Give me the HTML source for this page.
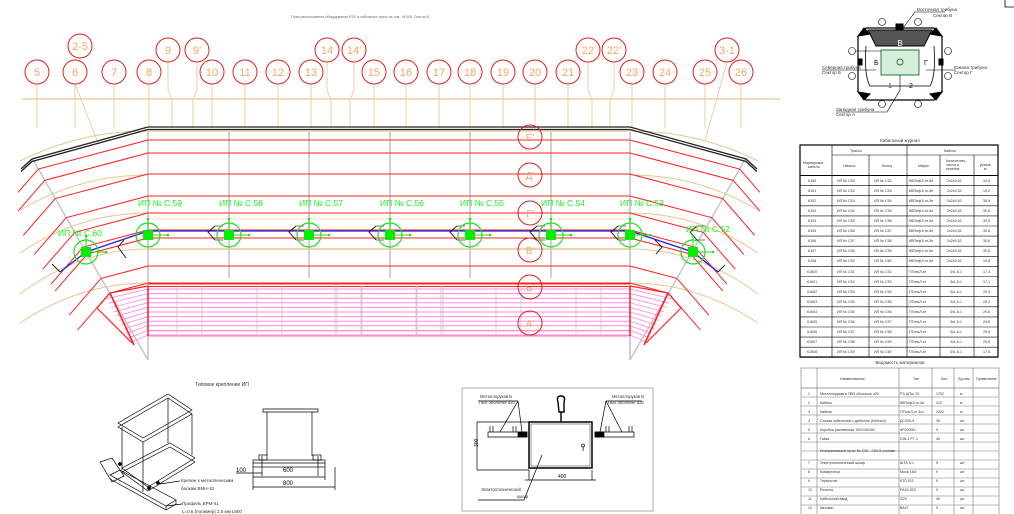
<!DOCTYPE html>
<html><head><meta charset="utf-8"><style>
html,body{margin:0;padding:0;background:#fff;width:1014px;height:514px;overflow:hidden}
svg{display:block;font-family:"Liberation Sans","DejaVu Sans",sans-serif}
.b{fill:#f0a868;font-size:11px;text-anchor:middle}
.g{fill:#22ee22;font-size:8.5px}
.t{font-size:3.6px;fill:#333}
.tc{font-size:3.6px;fill:#333;text-anchor:middle}
</style></head><body>
<svg id="s" width="1014" height="514" viewBox="0 0 1014 514" xmlns="http://www.w3.org/2000/svg">
<g id="geo"></g>
<text x="360" y="18" class="tc" style="font-size:3.5px;fill:#666">План расположения оборудования РЭС и кабельных трасс на отм. +8.000. Сектор В</text>
<!-- bubbles -->
<g fill="#fff" stroke="#e02020" stroke-width="1">
<circle cx="37" cy="72" r="12"/><circle cx="75" cy="72" r="12"/><circle cx="114" cy="72" r="12"/><circle cx="149" cy="72" r="12"/>
<circle cx="212" cy="72" r="12"/><circle cx="245" cy="72" r="12"/><circle cx="278" cy="72" r="12"/><circle cx="311" cy="72" r="12"/>
<circle cx="374" cy="72" r="12"/><circle cx="406" cy="72" r="12"/><circle cx="439" cy="72" r="12"/><circle cx="470" cy="72" r="12"/>
<circle cx="503" cy="72" r="12"/><circle cx="535" cy="72" r="12"/><circle cx="568" cy="72" r="12"/><circle cx="632" cy="72" r="12"/>
<circle cx="665" cy="72" r="12"/><circle cx="705" cy="72" r="12"/><circle cx="741" cy="72" r="12"/>
<circle cx="80" cy="46" r="12"/><circle cx="168" cy="50" r="12"/><circle cx="197" cy="50" r="12"/><circle cx="327" cy="50" r="12"/>
<circle cx="354" cy="50" r="12"/><circle cx="588" cy="50" r="12"/><circle cx="614" cy="50" r="12"/><circle cx="727" cy="50" r="12"/>
</g>
<g class="b">
<text x="37" y="76">5</text><text x="75" y="76">6</text><text x="114" y="76">7</text><text x="149" y="76">8</text>
<text x="212" y="76">10</text><text x="245" y="76">11</text><text x="278" y="76">12</text><text x="311" y="76">13</text>
<text x="374" y="76">15</text><text x="406" y="76">16</text><text x="439" y="76">17</text><text x="470" y="76">18</text>
<text x="503" y="76">19</text><text x="535" y="76">20</text><text x="568" y="76">21</text><text x="632" y="76">23</text>
<text x="665" y="76">24</text><text x="705" y="76">25</text><text x="741" y="76">26</text>
<text x="80" y="50">2-5</text><text x="168" y="54">9</text><text x="197" y="54">9'</text><text x="327" y="54">14</text>
<text x="354" y="54">14'</text><text x="588" y="54">22</text><text x="614" y="54">22'</text><text x="727" y="54">3-1</text>
</g>
<!-- row bubbles -->
<g fill="none" stroke="#e02020" stroke-width="1">
<circle cx="530" cy="137" r="12"/><circle cx="530" cy="175" r="12"/><circle cx="530" cy="213" r="12"/>
<circle cx="530" cy="250" r="12"/><circle cx="530" cy="287" r="12"/><circle cx="530" cy="323" r="12"/>
</g>
<g class="b" style="font-size:10px">
<text x="530" y="141">Е'</text><text x="530" y="179">Д'</text><text x="530" y="217">Г'</text>
<text x="530" y="254">В'</text><text x="530" y="291">Б'</text><text x="530" y="327">А'</text>
</g>
<g id="nodes"></g>
<g class="g">
<text x="138" y="206">ИП № С.59</text><text x="219" y="206">ИП № С.58</text><text x="299" y="206">ИП № С.57</text>
<text x="380" y="206">ИП № С.56</text><text x="460" y="206">ИП № С.55</text><text x="541" y="206">ИП № С.54</text>
<text x="620" y="206">ИП № С.53</text><text x="58" y="236">ИП № С.60</text><text x="686" y="232">ИП № С.52</text>
</g>

<!-- site plan -->
<g stroke="#000" fill="none" stroke-width="1">
<polygon points="866,28 934,28 942,36 942,92 934,100 866,100 858,92 858,36" stroke-width="1.2"/>
<path d="M868,30 L932,30 L924,46 L876,46 Z" fill="#555"/>
<rect x="881" y="50" width="38" height="25" fill="#d8eedd" stroke="#2a7a3a"/>
<circle cx="900" cy="62" r="3" stroke="#2a7a3a"/>
<path d="M866,46 Q864,76 870,86 L930,86 Q936,76 934,46" stroke-width="0.8"/>
<rect x="896" y="24" width="7" height="6" fill="#000"/>
<rect x="858" y="59" width="4" height="6" fill="#000"/><rect x="939" y="59" width="4" height="6" fill="#000"/>
<path d="M858,36 l6,-8 l6,6 z M942,36 l-6,-8 l-6,6 z M858,92 l6,8 l6,-6 z M942,92 l-6,8 l-6,-6 z" fill="#000"/>
<g stroke-width="0.6"><circle cx="882" cy="22" r="3.5"/><circle cx="918" cy="22" r="3.5"/><circle cx="852" cy="51" r="3.5"/><circle cx="948" cy="51" r="3.5"/>
<circle cx="852" cy="76" r="3.5"/><circle cx="948" cy="76" r="3.5"/><circle cx="882" cy="104" r="3.5"/><circle cx="918" cy="104" r="3.5"/>
<path d="M903,28 L915,12 L945,12 M855,51 L881,51 M822,70 L876,70 M956,70 L926,70 M900,75 L900,90 L887,112 L836,112"/></g>
</g>
<text x="900" y="46" style="font-size:8px;fill:#fff;text-anchor:middle">В</text>
<text x="874" y="65" style="font-size:7px">Б</text><text x="924" y="65" style="font-size:7px">Г</text>
<text x="888" y="88" style="font-size:7px;fill:#2244aa">1</text><text x="909" y="88" style="font-size:7px">2</text>
<g class="t" style="font-size:4.5px"><text x="917" y="11">Восточная трибуна</text><text x="933" y="17">Сектор В</text>
<text x="822" y="69">Северная трибуна</text><text x="822" y="74">Сектор Б</text>
<text x="954" y="69">Южная трибуна</text><text x="954" y="74">Сектор Г</text>
<text x="836" y="111">Западная трибуна</text><text x="836" y="116">Сектор А</text></g>
<path d="M1005,0 L1005,7 L1014,7" stroke="#000" fill="none" stroke-width="0.8"/>

<!-- cable table -->
<text x="900" y="142" class="tc" style="font-size:4.5px">Кабельный журнал</text>
<g id="ct" stroke="#000" fill="none" stroke-width="0.6"></g>
<g id="ctt"></g>
<!-- materials table -->
<text x="900" y="364" class="tc" style="font-size:4.5px">Ведомость материалов</text>
<g id="mt" stroke="#777" fill="none" stroke-width="0.6"></g>
<g class="t">
<text x="840" y="380">Наименование</text><text x="913" y="380">Тип</text><text x="941" y="380">Кол.</text><text x="958" y="380">Ед.изм.</text><text x="976" y="380">Примечание</text>
<text x="808" y="395">1</text><text x="820" y="395">Металлорукав в ПВХ оболочке d20</text><text x="900" y="395">РЗ-ЦПнг 20</text><text x="936" y="395">1702</text><text x="960" y="395">м</text>
<text x="808" y="404">2</text><text x="820" y="404">Кабель</text><text x="900" y="404">КВПефЭ-нг-5е</text><text x="936" y="404">312</text><text x="960" y="404">м</text>
<text x="808" y="413">3</text><text x="820" y="413">Кабель</text><text x="900" y="413">ПТоньЛ-нг 3х1</text><text x="936" y="413">2202</text><text x="960" y="413">м</text>
<text x="808" y="422">4</text><text x="820" y="422">Стяжка кабельная с дюбелем (Нейлон)</text><text x="900" y="422">ДС200-9</text><text x="936" y="422">36</text><text x="960" y="422">шт</text>
<text x="808" y="431">5</text><text x="820" y="431">Коробка распаечная 100х100х50</text><text x="900" y="431">КР100/50</text><text x="936" y="431">9</text><text x="960" y="431">шт</text>
<text x="808" y="440">6</text><text x="820" y="440">Гайка</text><text x="900" y="440">DIN-1 Р7-1</text><text x="936" y="440">45</text><text x="960" y="440">шт</text>
<text x="820" y="452">Интерактивный пункт № С52 - С60 8 составе</text>
<text x="808" y="464">7</text><text x="820" y="464">Электротехнический шкаф</text><text x="900" y="464">ШТА 5-1</text><text x="936" y="464">9</text><text x="960" y="464">шт</text>
<text x="808" y="473">8</text><text x="820" y="473">Коммутатор</text><text x="900" y="473">Moxa 16G</text><text x="936" y="473">9</text><text x="960" y="473">шт</text>
<text x="808" y="482">9</text><text x="820" y="482">Термостат</text><text x="900" y="482">КТО 011</text><text x="936" y="482">9</text><text x="960" y="482">шт</text>
<text x="808" y="491">10</text><text x="820" y="491">Розетка</text><text x="900" y="491">РА16-003</text><text x="936" y="491">9</text><text x="960" y="491">шт</text>
<text x="808" y="500">11</text><text x="820" y="500">Кабельный ввод</text><text x="900" y="500">G20</text><text x="936" y="500">45</text><text x="960" y="500">шт</text>
<text x="808" y="509">12</text><text x="820" y="509">Автомат</text><text x="900" y="509">ВА47</text><text x="936" y="509">9</text><text x="960" y="509">шт</text>
</g>

<!-- bottom-left bracket -->
<text x="222" y="386" class="tc" style="font-size:5px">Типовое крепление ИП</text>
<g stroke="#000" fill="none" stroke-width="0.7">
<polygon points="118,423 168,394 192,410 143,438"/><polygon points="118,427 168,398 192,414 143,442"/>
<path d="M122,427 L122,470 M143,442 L143,492 M168,398 L168,443 M192,414 L192,455"/>
<polygon points="122,468 170,443 195,458 148,487"/><polygon points="122,472 170,447 195,462 148,491"/>
<polygon points="100,462 112,458 124,476 112,482" /><polygon points="110,475 120,470 176,500 166,506"/><path d="M110,479 L166,510 M166,506 L166,510 M176,500 L176,504 L166,510"/>
<circle cx="120" cy="464" r="1.5" fill="#000"/><circle cx="149" cy="488" r="1.5" fill="#000"/><circle cx="158" cy="483" r="1.5" fill="#000"/>
<path d="M160,484 L180,481 M166,506 L182,504"/>
<path d="M263,409 L318,409 L318,412 L263,412 Z M267,412 L267,456 M312,412 L312,456"/>
<rect x="253" y="460" width="72" height="7"/><path d="M253,463 L325,463 M262,456 L262,476 M318,456 L318,476"/>
<rect x="259" y="455" width="8" height="5"/><rect x="313" y="455" width="8" height="5"/>
<path d="M236,473 L262,473 M253,477 L325,477 M253,487 L335,487 M253,467 L253,490 M325,467 L325,480 M335,467 L335,490"/>
</g>
<g class="t" style="font-size:4.5px"><text x="181" y="482">Крепеж к металлическим</text><text x="181" y="490">балкам ВМН-10</text>
<text x="182" y="505">Профиль ВРМ-41</text><text x="182" y="513">L=0.5 (полимер) 2.5 мм L800</text></g>
<g style="font-size:6px;fill:#000"><text x="236" y="472">100</text><text x="283" y="472">600</text><text x="283" y="485">800</text></g>

<!-- bottom middle -->
<g stroke="#000" fill="none" stroke-width="0.7">
<rect x="462" y="388" width="191" height="123" stroke="#888"/>
<rect x="529" y="422" width="63" height="46" stroke-width="1.5"/><rect x="531" y="424" width="59" height="42" stroke-width="0.4"/>
<path d="M477,422 L529,422 M477,470 L529,470 M477,422 L477,470"/>
<path d="M488,432 L527,432 L527,437 L488,437 Z M490,426 L490,432 M493,426 L493,432 M513,426 L513,432 M516,426 L516,432"/>
<path d="M595,432 L634,432 L634,437 L595,437 Z M606,426 L606,432 M609,426 L609,432 M629,426 L629,432 M632,426 L632,432"/>
<rect x="518" y="432" width="9" height="5" fill="#000"/><rect x="595" y="432" width="9" height="5" fill="#000"/>
<path d="M518,401 L500,432 M518,401 L522,432 M606,401 L600,432 M606,401 L622,432 M478,401 L518,401 M606,401 L642,401"/>
<path d="M529,470 L529,480 L592,480 L592,470 M525,480 L596,480"/>
<path d="M542,455 L524,500 L478,500"/>
<path d="M558,402 Q556,396 561,396 Q566,396 564,402 L564,412 L559,412 Z M561,412 L561,422" stroke-width="1.4"/>
<path d="M583,447 a1.5,1.5 0 1 1 0.1,0 l0,4"/>
</g>
<g class="t" style="font-size:4.2px"><text x="480" y="398">Металлорукав Б</text><text x="479" y="404">ПВХ оболочке d20</text>
<text x="612" y="398">Металлорукав Б</text><text x="608" y="404">ПВХ оболочке d20</text>
<text x="481" y="491">Электротехнический</text><text x="517" y="498">шкаф</text></g>
<text x="558" y="478" style="font-size:5px">400</text>
<text x="474" y="451" transform="rotate(-90 474 447)" style="font-size:5px">300</text>

<script>
const NS="http://www.w3.org/2000/svg",G=document.getElementById('geo');
function el(t,a,p){const e=document.createElementNS(NS,t);for(const k in a)e.setAttribute(k,a[k]);(p||G).appendChild(e);return e;}
function L(x1,y1,x2,y2,c,w,p){el('line',{x1,y1,x2,y2,stroke:c,'stroke-width':w||1},p);}
function PL(pts,c,w,p){el('polyline',{points:pts.map(q=>q.join(',')).join(' '),stroke:c,'stroke-width':w||1,fill:'none'},p);}
const M=x=>778-x, BE='#e6c88c', RED='#ff2020', GR='#c4c4c4', PK='#ff88e8';
// beige axis
L(22,99,780,99,BE,1.2);
const bx=[37,75,114,149,212,245,278,311,374,406,439,470,503,535,568,632,665,705,741];
bx.forEach(x=>L(x,84,x,128,BE,0.8));
[[168,50],[197,50],[327,50],[354,50],[588,50],[614,50]].forEach(([x,y],i)=>{const d=i%2?-4:4;PL([[x,62],[x,90],[x+d,100],[x+d,128]],BE,0.8);});
PL([[80,58],[80,80],[75,84]],BE,0.8);PL([[75,84],[97,140]],BE,0.8);PL([[727,62],[715,105],[705,140]],BE,0.8);
L(148,131,630,131,BE,1.2);L(148,249,630,249,BE,1.5);L(148,219,630,219,BE,0.6);L(148,312,630,312,BE,1);L(148,331,630,331,BE,1);
// beige arcs wings
[[175,35],[213,40],[249,45],[283,40],[131,30]].forEach(([y,d])=>{el('path',{d:`M148,${y} Q80,${y} 20,${y+d}`,stroke:BE,'stroke-width':1,fill:'none'});el('path',{d:`M630,${y} Q698,${y} 758,${y+d}`,stroke:BE,'stroke-width':1,fill:'none'});});
// gray verticals
const vx=[148,229,309,390,470,551,630];
vx.forEach(x=>L(x,132,x,(x==148||x==630)?360:278,GR,1.6));
L(32,158,148,360,GR,1.4);L(746,158,630,360,GR,1.4);
// red lines
const ys=[140,153,174,196,213,230,238,266,283];
ys.forEach(y0=>{L(148,y0,630,y0,RED,1);const x=(0.574*y0-36.2)/1.152,y=y0+0.265*(148-x);let Lg=Math.min(32,x-18);
PL([[148,y0],[x,y],[x-Lg,y+Lg*1.15]],RED,1);PL([[630,y0],[M(x),y],[M(x)+Lg,y+Lg*1.15]],RED,1);});
// black top
[127,129.5].forEach(y=>{PL([[148,y],[32,y+32],[21,y+42]],'#222',1.3);L(148,y,630,y,'#222',1.3);PL([[630,y],[746,y+32],[757,y+42]],'#222',1.3);});
// pink zone
L(148,284,630,284,RED,1);L(148,286.5,630,286.5,RED,1);
for(let y=289;y<=336;y+=4.6){L(148,y,630,y,PK,1);const t=(y-287)/49,ex=105+27*t,ey=297+46*t;L(148,y,ex,ey,PK,0.8);L(630,y,M(ex),ey,PK,0.8);}
L(148,336,630,336,PK,1.2);
L(148,286,148,336,RED,1.4);L(630,286,630,336,RED,1.4);
[177,202,257,282,337,362,417,443].forEach(x=>{L(x,286,x,336,GR,0.8);L(M(x),286,M(x),336,GR,0.8);});
PL([[148,286],[110,293],[97,308],[132,343]],RED,1.2);PL([[630,286],[668,293],[681,308],[646,343]],RED,1.2);
PL([[110,293],[134,345]],RED,1.6);PL([[668,293],[644,345]],RED,1.6);
// blue cable
const B='#2020e0';L(148,231,630,231,B,1.3);PL([[148,231],[86,252],[60,272]],B,1.3);PL([[630,231],[693,252],[718,272]],B,1.3);
// nodes
const N=document.getElementById('nodes');
function node(x,y){el('circle',{cx:x,cy:y,r:12,stroke:'#22dd22','stroke-width':1.2,fill:'none'},N);el('rect',{x:x-5,y:y-5,width:10,height:10,fill:'#00ee00'},N);
L(x,y,x,y-16,'#22dd22',1,N);el('circle',{cx:x,cy:y-16,r:1.3,fill:'#22dd22'},N);L(x,y,x+20,y,'#22dd22',1,N);el('circle',{cx:x+20,cy:y,r:1.3,fill:'#22dd22'},N);}
vx.forEach(x=>node(x,235));node(86,252);node(693,252);
// brackets
vx.slice(0,7).forEach(x=>{PL([[x+67,226],[x+60,232],[x+67,240]],'#111',0.9);L(x+67,226,x+75,226,'#111',0.6);L(x+67,240,x+75,240,'#111',0.6);});
PL([[124,240],[118,247],[126,258]],'#111',0.9);PL([[52,264],[60,272]],'#111',0.9);PL([[718,272],[725,265]],'#111',0.9);PL([[655,240],[662,247],[656,254]],'#111',0.9);
// cable table
const CT=document.getElementById('ct'),CTT=document.getElementById('ctt');
const cx=[800,832,869,907,940,974,998];
el('rect',{x:800,y:145,width:198,height:212,'stroke-width':1.2},CT);
L(832,155,998,155,'#000',0.6,CT);L(832,145,832,357,'#000',0.6,CT);L(907,145,907,357,'#000',0.6,CT);
[869,940,974].forEach(x=>L(x,155,x,357,'#000',0.6,CT));
for(let i=0;i<=18;i++){L(800,175.5+i*10.1,998,175.5+i*10.1,'#000',i==0?1:0.6,CT);}
// materials table
const MT=document.getElementById('mt');
el('rect',{x:801,y:368,width:198,height:150},MT);
[817,899,932,954,973].forEach(x=>L(x,368,x,514,'#777',0.6,MT));
L(801,388,999,388,'#777',0.6,MT);
for(let y=388;y<514;y+=9)L(801,y,999,y,'#777',0.5,MT);
</script>
<g class="t">
<text x="850" y="152">Трасса</text><text x="944" y="152">Кабель</text>
<text x="803" y="164">Маркировка</text><text x="808" y="168">кабеля</text>
<text x="843" y="167">Начало</text><text x="882" y="167">Конец</text><text x="918" y="167">Марка</text>
<text x="946" y="162">Количество,</text><text x="946" y="166">число и</text><text x="946" y="170">сечение</text><text x="980" y="166">Длина,</text><text x="984" y="170">м</text>
<text x="808" y="182">К100</text><text x="837" y="182">ИП № С53</text><text x="874" y="182">ИП № С52</text><text x="909" y="182">КВПефЭ-нг-5е</text><text x="947" y="182">2х2х0,52</text><text x="983" y="182">19,5</text>
<text x="808" y="192">К101</text><text x="837" y="192">ИП № С52</text><text x="874" y="192">ИП № С53</text><text x="909" y="192">КВПефЭ-нг-5е</text><text x="947" y="192">2х2х0,52</text><text x="983" y="192">19,2</text>
<text x="808" y="202">К102</text><text x="837" y="202">ИП № С53</text><text x="874" y="202">ИП № С54</text><text x="909" y="202">КВПефЭ-нг-5е</text><text x="947" y="202">2х2х0,52</text><text x="983" y="202">30,5</text>
<text x="808" y="212">К103</text><text x="837" y="212">ИП № С54</text><text x="874" y="212">ИП № С55</text><text x="909" y="212">КВПефЭ-нг-5е</text><text x="947" y="212">2х2х0,52</text><text x="983" y="212">30,6</text>
<text x="808" y="222">К104</text><text x="837" y="222">ИП № С55</text><text x="874" y="222">ИП № С56</text><text x="909" y="222">КВПефЭ-нг-5е</text><text x="947" y="222">2х2х0,52</text><text x="983" y="222">30,6</text>
<text x="808" y="232">К105</text><text x="837" y="232">ИП № С56</text><text x="874" y="232">ИП № С57</text><text x="909" y="232">КВПефЭ-нг-5е</text><text x="947" y="232">2х2х0,52</text><text x="983" y="232">30,6</text>
<text x="808" y="242">К106</text><text x="837" y="242">ИП № С57</text><text x="874" y="242">ИП № С58</text><text x="909" y="242">КВПефЭ-нг-5е</text><text x="947" y="242">2х2х0,52</text><text x="983" y="242">30,6</text>
<text x="808" y="252">К107</text><text x="837" y="252">ИП № С58</text><text x="874" y="252">ИП № С59</text><text x="909" y="252">КВПефЭ-нг-5е</text><text x="947" y="252">2х2х0,52</text><text x="983" y="252">30,6</text>
<text x="808" y="262">К108</text><text x="837" y="262">ИП № С59</text><text x="874" y="262">ИП № С60</text><text x="909" y="262">КВПефЭ-нг-5е</text><text x="947" y="262">2х2х0,52</text><text x="983" y="262">19,8</text>
<text x="807" y="273">К1К00</text><text x="837" y="273">ИП № С51</text><text x="874" y="273">ИП № С52</text><text x="909" y="273">ПТоньЛ-нг</text><text x="950" y="273">3х1,5-1</text><text x="983" y="273">17,4</text>
<text x="807" y="283">К1К01</text><text x="837" y="283">ИП № С52</text><text x="874" y="283">ИП № С53</text><text x="909" y="283">ПТоньЛ-нг</text><text x="950" y="283">3х1,5-1</text><text x="983" y="283">17,1</text>
<text x="807" y="293">К1К02</text><text x="837" y="293">ИП № С53</text><text x="874" y="293">ИП № С54</text><text x="909" y="293">ПТоньЛ-нг</text><text x="950" y="293">3х1,5-1</text><text x="983" y="293">29,3</text>
<text x="807" y="303">К1К03</text><text x="837" y="303">ИП № С54</text><text x="874" y="303">ИП № С55</text><text x="909" y="303">ПТоньЛ-нг</text><text x="950" y="303">3х1,5-1</text><text x="983" y="303">29,2</text>
<text x="807" y="313">К1К04</text><text x="837" y="313">ИП № С55</text><text x="874" y="313">ИП № С56</text><text x="909" y="313">ПТоньЛ-нг</text><text x="950" y="313">3х1,5-1</text><text x="983" y="313">29,6</text>
<text x="807" y="323">К1К05</text><text x="837" y="323">ИП № С56</text><text x="874" y="323">ИП № С57</text><text x="909" y="323">ПТоньЛ-нг</text><text x="950" y="323">3х1,5-1</text><text x="983" y="323">29,6</text>
<text x="807" y="333">К1К06</text><text x="837" y="333">ИП № С57</text><text x="874" y="333">ИП № С58</text><text x="909" y="333">ПТоньЛ-нг</text><text x="950" y="333">3х1,5-1</text><text x="983" y="333">29,6</text>
<text x="807" y="343">К1К07</text><text x="837" y="343">ИП № С58</text><text x="874" y="343">ИП № С59</text><text x="909" y="343">ПТоньЛ-нг</text><text x="950" y="343">3х1,5-1</text><text x="983" y="343">29,6</text>
<text x="807" y="353">К1К08</text><text x="837" y="353">ИП № С59</text><text x="874" y="353">ИП № С60</text><text x="909" y="353">ПТоньЛ-нг</text><text x="950" y="353">3х1,5-1</text><text x="983" y="353">17,6</text>
</g>
</svg>
</body></html>
